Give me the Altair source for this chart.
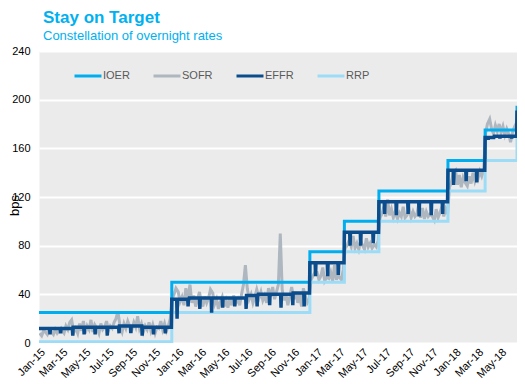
import altair as alt
import pandas as pd

# ---------------- data (bps) ----------------
SERIES = ["IOER", "SOFR", "EFFR", "RRP"]
COLORS = ["#00AEEF", "#AEB7BF", "#0B4C8C", "#9CDCF7"]

# policy steps
STEP_DATES = ["2015-01-01", "2015-12-17", "2016-12-15", "2017-03-16",
              "2017-06-15", "2017-12-14", "2018-03-22", "2018-06-14"]
IOER_LEVELS = [25, 50, 75, 100, 125, 150, 175, 195]
RRP_LEVELS = [1, 25, 50, 75, 100, 125, 150, 175]

# EFFR: prevailing level from each date on
EFFR_LEVEL_DATES = ["2015-01-01", "2015-04-01", "2015-08-01", "2015-10-01",
                    "2015-12-17", "2016-02-01", "2016-07-01", "2016-08-01",
                    "2016-11-01", "2016-12-15", "2017-03-16", "2017-06-15",
                    "2017-12-14", "2018-03-22", "2018-04-15", "2018-06-14"]
EFFR_LEVELS = [12, 13, 14, 13, 36, 37, 39, 40, 41, 66, 91, 116, 142, 169, 170, 191]
# EFFR month-end dips (last business day of each month, Jan-15 .. May-18)
EFFR_DIPS = [7, 8, 6, 7, 7, 6, 8, 8, 6, 7, 8, 20,
             30, 28, 25, 29, 30, 28, 30, 31, 29, 31, 30, 55,
             55, 56, 80, 80, 82, 106, 105, 106, 104, 105, 106, 130,
             133, 132, 167, 168, 168]

# SOFR samples on days 3, 8, 13, 18, 23, 28 of each month
SOFR_DAYS = [3, 8, 13, 18, 23, 28]
SOFR_2015 = [[8, 6, 10, 9, 7, 11], [9, 7, 11, 8, 10, 12], [10, 8, 14, 11, 17, 19],
             [9, 12, 8, 16, 10, 18], [8, 14, 11, 19, 9, 15], [12, 8, 16, 11, 13, 18],
             [10, 14, 12, 17, 20, 26], [13, 9, 16, 12, 18, 14], [11, 17, 13, 22, 12, 16],
             [9, 14, 11, 17, 10, 15], [8, 13, 12, 18, 11, 16], [10, 14, 20, 36, 40, 45]]
SOFR_2016 = [[42, 34, 38, 31, 45, 36], [48, 33, 39, 30, 36, 42], [35, 30, 38, 33, 37, 44],
             [41, 32, 36, 28, 34, 38], [30, 35, 29, 37, 31, 39], [33, 36, 31, 40, 48, 64],
             [45, 36, 40, 33, 38, 44], [37, 42, 35, 39, 33, 45], [38, 46, 36, 42, 48, 90],
             [44, 35, 40, 31, 38, 46], [36, 42, 33, 40, 30, 45], [38, 33, 36, 52, 55, 58]]
SOFR_2017 = [[58, 52, 55, 62, 51, 54], [53, 58, 51, 64, 52, 56], [54, 52, 60, 78, 80, 84],
             [79, 88, 78, 82, 77, 84], [80, 77, 86, 79, 82, 78], [81, 79, 84, 103, 106, 112],
             [104, 118, 105, 110, 103, 108], [102, 107, 104, 112, 103, 105],
             [110, 103, 108, 104, 106, 114], [103, 111, 102, 108, 104, 106],
             [104, 101, 110, 103, 107, 112], [104, 110, 106, 128, 132, 140]]
SOFR_2018 = [[142, 130, 138, 128, 136, 132], [129, 137, 131, 140, 133, 138],
             [135, 141, 137, 142, 172, 180], [184, 176, 172, 179, 174, 180],
             [173, 178, 171, 176, 172, 165], [174, 178, 181]]

Y_TICKS = [0, 40, 80, 120, 160, 200, 240]

# ---------------- build the long table ----------------
rows = []
for d, v in zip(STEP_DATES, IOER_LEVELS):
    rows.append({"date": d, "value": v, "series": "IOER"})
for d, v in zip(STEP_DATES, RRP_LEVELS):
    rows.append({"date": d, "value": v, "series": "RRP"})

for yr, block in zip([2015, 2016, 2017, 2018], [SOFR_2015, SOFR_2016, SOFR_2017, SOFR_2018]):
    for m, vals in enumerate(block, start=1):
        for day, v in zip(SOFR_DAYS, vals):
            rows.append({"date": f"{yr}-{m:02d}-{day:02d}", "value": v, "series": "SOFR"})

days = pd.date_range("2015-01-01", "2018-06-14", freq="D")
lvl_dates = pd.to_datetime(EFFR_LEVEL_DATES)
month_ends = pd.date_range("2015-01-01", periods=len(EFFR_DIPS), freq="BME")
dip_map = dict(zip(month_ends, EFFR_DIPS))
for d in days:
    idx = lvl_dates.searchsorted(d, side="right") - 1
    v = dip_map.get(d, EFFR_LEVELS[idx])
    rows.append({"date": d.strftime("%Y-%m-%d"), "value": v, "series": "EFFR"})

df = pd.DataFrame(rows)

x_ticks = [alt.DateTime(year=2015 + (k // 12), month=(k % 12) + 1, date=1, utc=True)
           for k in range(0, 41, 2)]

x = alt.X("date:T",
          scale=alt.Scale(type="utc",
                          domain=[alt.DateTime(year=2015, month=1, date=1, utc=True),
                                  alt.DateTime(year=2018, month=6, date=14, utc=True)]),
          axis=alt.Axis(values=x_ticks, format="%b-%y", labelAngle=315, title=None,
                        grid=False, domain=False, ticks=False, labelPadding=3,
                        labelOverlap=False, labelAlign="right", labelBaseline="top",
                        labelFontSize=11, labelColor="#000000", labelFont="Liberation Sans"))
y = alt.Y("value:Q",
          scale=alt.Scale(domain=[0, 240], nice=False, zero=True),
          axis=alt.Axis(values=Y_TICKS, title="bps", grid=True, gridColor="#FFFFFF",
                        gridWidth=2, domain=False, ticks=False, labelPadding=9,
                        labelFontSize=11, labelColor="#000000", labelFont="Liberation Sans",
                        titleFont="Liberation Sans", titleFontSize=13, titleFontWeight="normal",
                        titleColor="#000000", titleAngle=270, titleX=-21, titleY=154,
                        titleAlign="center", titleBaseline="alphabetic"))
color = alt.Color("series:N",
                  scale=alt.Scale(domain=SERIES, range=COLORS),
                  legend=alt.Legend(title=None, orient="none", legendX=34, legendY=10,
                                    direction="horizontal", symbolType="stroke",
                                    symbolStrokeWidth=3, symbolSize=729, labelOffset=0,
                                    columnPadding=17, labelFontSize=11,
                                    labelFont="Liberation Sans", labelColor="#595959"))

base = alt.Chart(df).encode(x=x, y=y, color=color)

sofr = base.transform_filter(alt.datum.series == "SOFR").mark_line(strokeWidth=3, clip=True)
ioer = base.transform_filter(alt.datum.series == "IOER").mark_line(
    strokeWidth=3, interpolate="step-after", clip=True)
rrp = base.transform_filter(alt.datum.series == "RRP").mark_line(
    strokeWidth=3, interpolate="step-after", clip=True)
effr = base.transform_filter(alt.datum.series == "EFFR").mark_line(strokeWidth=3.5, clip=True)

chart = alt.layer(sofr, ioer, rrp, effr).properties(
    width=478, height=292,
    autosize=alt.AutoSizeParams(type="none"),
    padding={"left": 31, "top": 43, "right": 0, "bottom": 40},
    title=alt.TitleParams("Stay on Target", subtitle="Constellation of overnight rates",
                          anchor="start", frame="group", dx=4, offset=1,
                          font="Liberation Sans",
                          fontSize=17, fontWeight="bold", color="#00B0F0",
                          subtitleFont="Liberation Sans", subtitleFontSize=13,
                          subtitleColor="#00B0F0", subtitlePadding=3),
).configure_view(fill="#EBEBEB", strokeOpacity=0)

chart.save("out.html", embed_options={"renderer": "svg", "actions": False})
